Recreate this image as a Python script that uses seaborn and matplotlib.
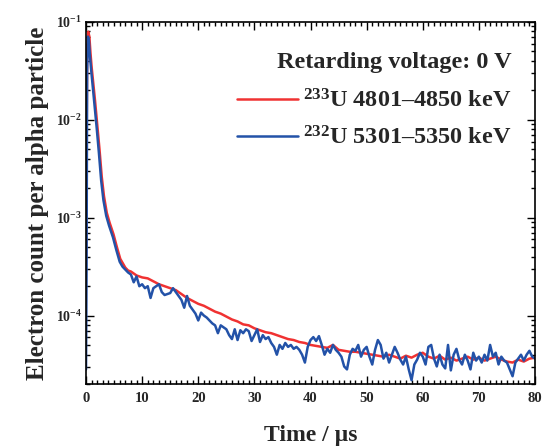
import numpy as np
import pandas as pd
import matplotlib
matplotlib.use("Agg")
import matplotlib.pyplot as plt
import seaborn as sns
from matplotlib.ticker import MultipleLocator, LogLocator

# ---- data (log10 of electron count per alpha particle) ----
red_t = [0, 0.2, 0.4, 0.6, 0.8, 1.0, 1.3, 1.6, 2.0, 2.4, 2.8, 3.2, 3.7, 4.2, 4.9, 5.5,
         6.1, 6.6, 7.0, 7.5, 8.0, 8.5, 9, 10, 11, 12, 13, 14, 15, 16, 17, 18, 19, 20,
         21, 22, 23, 24, 25, 26, 27, 28, 29, 30, 31, 32, 33, 34, 35, 36, 37, 38, 39, 40,
         41, 42, 43, 44, 45, 46, 47, 48, 49, 50, 51, 52, 53, 54, 55, 56, 57, 58, 59, 60,
         61, 62, 63, 64, 65, 66, 67, 68, 69, 70, 71, 72, 73, 74, 75, 76, 77, 78, 79, 80]
red_exp = [-3.40, -1.30, -1.10, -1.15, -1.32, -1.46, -1.63, -1.80, -2.05, -2.30, -2.58, -2.78,
           -2.95, -3.05, -3.17, -3.30, -3.42, -3.47, -3.51, -3.54, -3.55, -3.57, -3.59, -3.61,
           -3.62, -3.65, -3.68, -3.70, -3.72, -3.74, -3.78, -3.82, -3.85, -3.88, -3.90, -3.93,
           -3.96, -3.98, -4.01, -4.04, -4.06, -4.09, -4.10, -4.13, -4.15, -4.17, -4.18, -4.20,
           -4.22, -4.24, -4.25, -4.27, -4.28, -4.30, -4.31, -4.32, -4.33, -4.30, -4.35, -4.36,
           -4.37, -4.37, -4.38, -4.39, -4.40, -4.41, -4.42, -4.40, -4.42, -4.44, -4.41, -4.43,
           -4.40, -4.38, -4.42, -4.44, -4.41, -4.45, -4.43, -4.46, -4.44, -4.42, -4.45, -4.43,
           -4.46, -4.44, -4.42, -4.45, -4.47, -4.48, -4.45, -4.47, -4.44, -4.43]

blue_t_early = [0, 0.1, 0.2, 0.35, 0.5, 0.7, 0.9, 1.2, 1.5, 1.9, 2.3, 2.7, 3.1, 3.6, 4.1,
                4.8, 5.4, 6.0, 6.5, 7.0, 7.5]
blue_exp_early = [-4.55, -3.50, -1.50, -1.15, -1.18, -1.35, -1.48, -1.66, -1.84, -2.08,
                  -2.34, -2.62, -2.82, -2.98, -3.08, -3.20, -3.33, -3.45, -3.50, -3.53, -3.56]
blue_t_late = [8.0 + 0.5 * i for i in range(145)]
blue_exp_late = [-3.58, -3.66, -3.60, -3.70, -3.68, -3.72, -3.70, -3.82, -3.72, -3.70,
                 -3.68, -3.76, -3.79, -3.78, -3.77, -3.72, -3.76, -3.80, -3.84, -3.92,
                 -3.80, -3.90, -3.94, -3.98, -4.05, -3.97, -4.00, -4.02, -4.05, -4.08,
                 -4.10, -4.18, -4.10, -4.12, -4.14, -4.20, -4.24, -4.14, -4.25, -4.15,
                 -4.18, -4.14, -4.16, -4.26, -4.20, -4.14, -4.27, -4.20, -4.24, -4.22,
                 -4.28, -4.32, -4.40, -4.30, -4.34, -4.28, -4.32, -4.30, -4.34, -4.32,
                 -4.35, -4.40, -4.48, -4.32, -4.25, -4.22, -4.26, -4.21, -4.30, -4.40,
                 -4.34, -4.38, -4.30, -4.35, -4.38, -4.42, -4.52, -4.55, -4.40, -4.34,
                 -4.36, -4.30, -4.42, -4.35, -4.32, -4.42, -4.50, -4.35, -4.25, -4.30,
                 -4.44, -4.38, -4.48, -4.40, -4.32, -4.38, -4.45, -4.50, -4.42, -4.55,
                 -4.66, -4.50, -4.45, -4.38, -4.42, -4.50, -4.32, -4.30, -4.44, -4.52,
                 -4.40, -4.50, -4.54, -4.30, -4.56, -4.40, -4.34, -4.45, -4.50, -4.40,
                 -4.46, -4.55, -4.38, -4.46, -4.42, -4.48, -4.40, -4.46, -4.30, -4.42,
                 -4.38, -4.50, -4.42, -4.46, -4.48, -4.55, -4.62, -4.48, -4.44, -4.40,
                 -4.46, -4.40, -4.36, -4.42, -4.44]

legend_title = "Retarding voltage: 0 V"
red_label = r"$^{\mathbf{233}}$U 4801–4850 keV"
blue_label = r"$^{\mathbf{232}}$U 5301–5350 keV"

red_df = pd.DataFrame({"t": red_t, "v": np.power(10.0, red_exp)})
blue_df = pd.DataFrame({"t": blue_t_early + blue_t_late,
                        "v": np.power(10.0, blue_exp_early + blue_exp_late)})

sns.set_style("ticks")
plt.rcParams["font.family"] = ["Liberation Serif", "DejaVu Serif"]
plt.rcParams["font.weight"] = "bold"
plt.rcParams["mathtext.fontset"] = "custom"
plt.rcParams["mathtext.rm"] = "Liberation Serif:bold"
plt.rcParams["mathtext.it"] = "Liberation Serif:bold"
plt.rcParams["mathtext.bf"] = "Liberation Serif:bold"

fig = plt.figure(figsize=(5.43, 4.48), dpi=100)
ax = fig.add_axes([0.1584, 0.1429, 0.8269, 0.8081])

red_c = "#f03232"
blue_c = "#2352a8"
sns.lineplot(data=red_df, x="t", y="v", ax=ax, color=red_c, lw=1.8, label=red_label)
sns.lineplot(data=blue_df, x="t", y="v", ax=ax, color=blue_c, lw=1.8, label=blue_label)

ax.set_yscale("log")
ax.set_xlim(0, 80)
ax.set_ylim(2e-5, 1e-1)
ax.xaxis.set_major_locator(MultipleLocator(10))
ax.xaxis.set_minor_locator(MultipleLocator(1))
ax.yaxis.set_major_locator(LogLocator(base=10))
ax.yaxis.set_minor_locator(LogLocator(base=10, subs=np.arange(2, 10)))
ax.tick_params(which="both", direction="in", top=True, right=True, width=1.0, color="black")
ax.tick_params(which="major", length=6)
ax.tick_params(which="minor", length=3)
ax.tick_params(axis="x", labelsize=10.5, pad=6)
ax.tick_params(axis="y", labelsize=10, pad=3)
for lab in ax.get_xticklabels() + ax.get_yticklabels():
    lab.set_fontweight("bold")
for s in ax.spines.values():
    s.set_linewidth(1.2)
    s.set_color("black")

ax.set_xlabel("Time / µs", fontsize=17, fontweight="bold", labelpad=14)
ax.set_ylabel("Electron count per alpha particle", fontsize=18, fontweight="bold", labelpad=5)

leg = ax.legend(title=legend_title, loc="upper right", frameon=False, fontsize=17.5,
                title_fontproperties={"weight": "bold", "size": 17.5, "family": "Liberation Serif"},
                handlelength=2.5, handletextpad=0.2, labelspacing=0.55,
                alignment="right", bbox_to_anchor=(0.985, 0.965), borderpad=0.2)
leg._legend_box.sep = 12
for t in leg.get_texts():
    t.set_fontweight("bold")

fig.savefig("out.png", dpi=100)
